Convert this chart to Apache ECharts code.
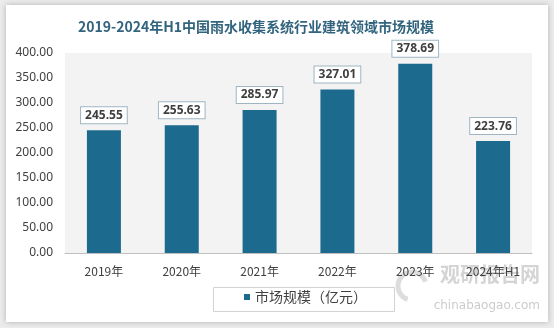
<!DOCTYPE html>
<html><head><meta charset="utf-8">
<script src="https://cdn.jsdelivr.net/npm/echarts@6/dist/echarts.min.js"></script>
<style>html,body{margin:0;padding:0;background:#ececec;}#c{width:554px;height:328px;}</style>
</head><body><div id="c"></div>
<script>
const categories = ['2019年','2020年','2021年','2022年','2023年','2024年H1'];
const values = [245.55, 255.63, 285.97, 327.01, 378.69, 223.76];
const seriesName = '市场规模（亿元）';
const titleText = '2019-2024年H1中国雨水收集系统行业建筑领域市场规模';

const chart = echarts.init(document.getElementById('c'), null, {renderer:'canvas'});
const numFont = '"Noto Sans", "Noto Sans CJK SC", sans-serif';
chart.setOption({
  backgroundColor: '#ececec',
  animation: false,
  graphic: [
    {type:'rect', z:-10, shape:{x:6,y:5,width:542,height:317}, style:{fill:'#ffffff', shadowBlur:6, shadowColor:'rgba(0,0,0,0.25)'}},
    {type:'rect', z:1, shape:{x:213.5,y:287.5,width:181,height:24}, style:{fill:null, stroke:'#d3d3d3', lineWidth:1}},
    {type:'text', z:-5, x:540, y:264, style:{text:'观研报告网', textAlign:'right', fontSize:20, fontWeight:'bold', fontFamily:'Noto Sans CJK SC', fill:'rgba(160,160,160,0.45)'}},
    {type:'text', z:-5, x:540, y:300, style:{text:'chinabaogao.com', textAlign:'right', fontSize:12, fontFamily:'DejaVu Sans', fill:'rgba(160,160,160,0.55)'}},
    {type:'arc', z:-5, shape:{cx:412,cy:286,r:14,startAngle:Math.PI*0.6,endAngle:Math.PI*1.9}, style:{stroke:'rgba(170,170,170,0.4)', lineWidth:5, fill:null}}
  ],
  title: {
    text: titleText,
    left: 73, top: 15,
    textStyle: {fontFamily:'"Noto Sans CJK SC", serif', fontSize:14, fontWeight:'bold', color:'#32647e'}
  },
  legend: {
    show: true,
    left: 244, top: 290, padding: 0,
    icon: 'rect', itemWidth: 6, itemHeight: 6, itemGap: 4,
    textStyle: {fontFamily:'"Noto Sans CJK SC", sans-serif', fontSize:14, color:'#404040'},
    data: [seriesName]
  },
  grid: {left:65, right:22, top:53, bottom:75, show:true, backgroundColor:'#f3f3f3', borderWidth:0},
  xAxis: {
    type: 'category', data: categories,
    axisLine: {lineStyle:{color:'#bfbfbf', width:1}},
    axisTick: {show:false},
    axisLabel: {color:'#404040', fontSize:12, margin:12, fontFamily:'"Noto Sans CJK SC", sans-serif'}
  },
  yAxis: {
    type: 'value', min:0, max:400, interval:50,
    axisLine: {show:false}, axisTick:{show:false},
    splitLine: {show:false},
    axisLabel: {color:'#404040', fontSize:12, margin:12, fontFamily:numFont, formatter: v => v.toFixed(2)}
  },
  series: [{
    name: seriesName, type: 'bar', data: values, barWidth: 34,
    itemStyle: {color:'#1c6a8e'},
    label: {
      show: true, position: 'top', distance: 7,
      formatter: p => p.value.toFixed(2),
      backgroundColor: '#ffffff', borderColor: '#9fb6c2', borderWidth: 1,
      padding: [2, 4, 2, 4],
      color: '#404040', fontWeight: 'bold', fontSize: 12, fontFamily: numFont
    }
  }]
});
</script></body></html>
